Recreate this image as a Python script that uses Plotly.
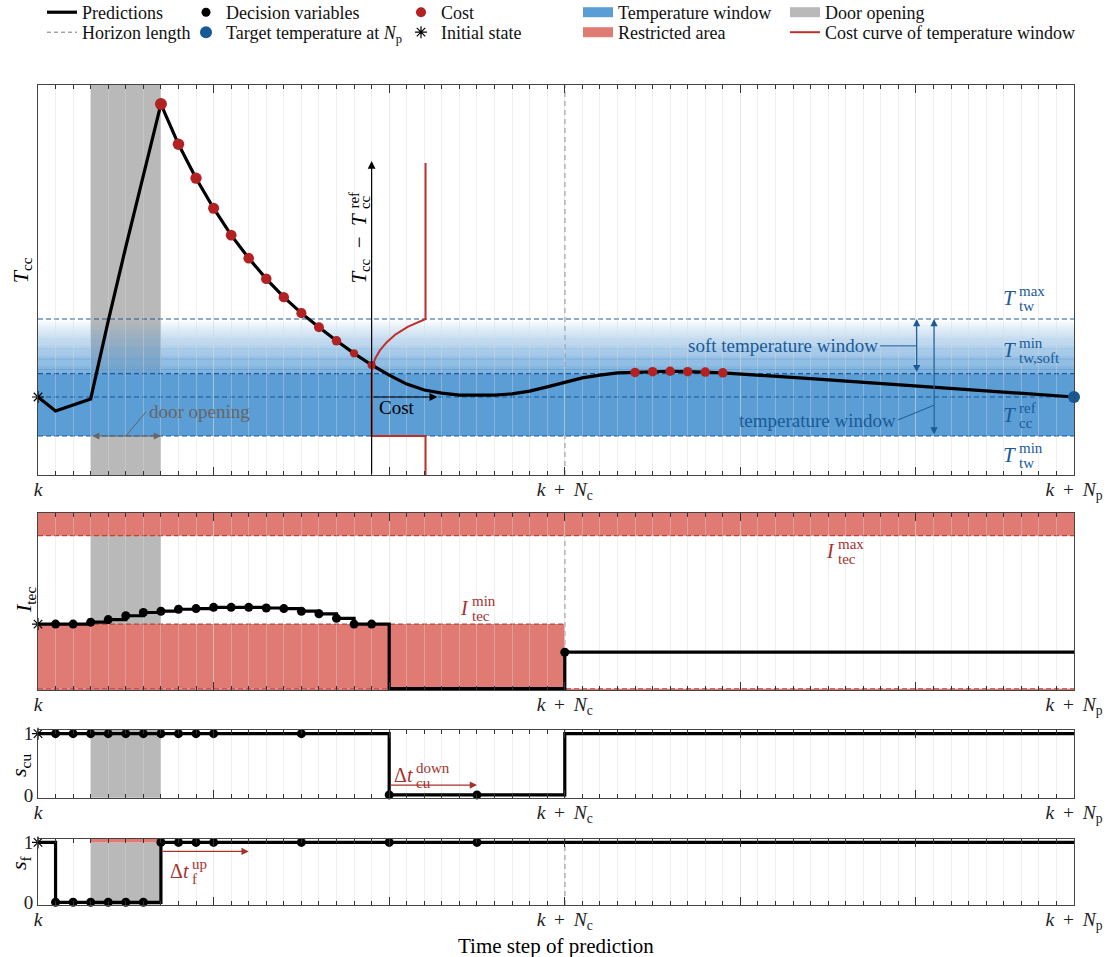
import plotly.graph_objects as go

# ---------------- horizon ----------------
N_C = 30            # control horizon
N_P = 59            # prediction horizon
DOOR_OPEN = (3, 7)  # steps during which the door is open
COST_AXIS_STEP = 19 # origin of the small cost diagram

# ---------------- temperature panel ----------------
T_MIN, T_REF, T_SOFT, T_MAX = 1.0, 2.0, 2.6, 4.0
T_RANGE = (0.0, 10.0)
temp_steps = [0, 1, 3, 4, 5, 6, 7, 8, 9, 10, 11, 12, 13, 14, 15, 16, 17, 18, 19,
              20, 21, 22, 23, 24, 25, 26, 27, 28, 29, 30, 31, 32, 33,
              34, 35, 36, 37, 38, 39, 44, 49, 54, 59]
temp_pred = [2.00, 1.64, 1.95, 3.95, 5.85, 7.70,
             9.51, 8.48, 7.61, 6.84, 6.15, 5.56, 5.03, 4.56, 4.15, 3.79, 3.44, 3.12, 2.82,
             2.56, 2.33, 2.18, 2.10, 2.05, 2.04, 2.05, 2.08, 2.15, 2.26, 2.38, 2.49, 2.56, 2.62,
             2.63, 2.65, 2.66, 2.65, 2.64, 2.62, 2.47, 2.32, 2.16, 2.00]
cost_steps = [7, 8, 9, 10, 11, 12, 13, 14, 15, 16, 17, 18, 19, 34, 35, 36, 37, 38, 39]
cost_weight = [1.0, 0.9, 0.85, 0.8, 0.75, 0.72, 0.7, 0.68, 0.62, 0.58, 0.5, 0.25, 0.22,
               0.5, 0.5, 0.5, 0.5, 0.5, 0.5]
# cost of the temperature window as a function of temperature
cost_curve_temp = [0.0, T_MIN, T_MIN, T_SOFT, 2.8, 3.0, 3.2, 3.4, 3.6, 3.8, T_MAX, 8.0]
cost_curve_val = [3.07, 3.07, 0.0, 0.0, 0.06, 0.22, 0.48, 0.85, 1.35, 2.05, 3.07, 3.07]

# ---------------- TEC current panel ----------------
I_MIN, I_MAX = 1.0, 2.37
I_RANGE = (-0.02, 2.72)
itec_steps = [0, 1, 2, 3, 4, 5, 6, 7, 8, 9, 10, 11, 12, 13, 14, 15, 16, 17, 18, 19, 20, 30, 59]
itec_pred = [1.0, 1.0, 1.0, 1.03, 1.07, 1.13, 1.18, 1.20, 1.23, 1.24, 1.26, 1.26, 1.26,
             1.25, 1.24, 1.20, 1.16, 1.09, 1.0, 1.0, 0.0, 0.565, 0.565]
itec_dec_steps = [1, 2, 3, 4, 5, 6, 7, 8, 9, 10, 11, 12, 13, 14, 15, 16, 17, 18, 19, 30]
itec_dec_vals = [1.0, 1.0, 1.03, 1.07, 1.13, 1.18, 1.20, 1.23, 1.24, 1.26, 1.26, 1.26,
                 1.25, 1.24, 1.20, 1.16, 1.09, 1.0, 1.0, 0.565]

# ---------------- switching panels ----------------
S_RANGE = (-0.045, 1.06)
scu_steps = [0, 20, 30, N_P]
scu_pred = [1, 0, 1, 1]
scu_dec_steps = [1, 2, 3, 4, 5, 6, 7, 8, 9, 10, 15, 20, 25]
scu_dec_vals = [1, 1, 1, 1, 1, 1, 1, 1, 1, 1, 1, 0, 0]
sf_steps = [0, 1, 7, N_P]
sf_pred = [1, 0, 1, 1]
sf_dec_steps = [1, 2, 3, 4, 5, 6, 7, 8, 9, 10, 15, 20, 25]
sf_dec_vals = [0, 0, 0, 0, 0, 0, 1, 1, 1, 1, 1, 1, 1]
DT_CU_DOWN = (20, 25)
DT_F_UP = (7, 12)

# ---------------- styling ----------------
FONT = "Liberation Serif"
BLUE_FILL = "rgb(91,157,213)"
BLUE_LINE = "#1a5a96"
BLUE_DOT = "#155a96"
RED_FILL = "rgb(224,123,116)"
RED_LINE = "#b5473f"
RED_TEXT = "#a5322d"
COST_RED = "#b22222"
CURVE_RED = "#c0302b"
GREY_FILL = "rgb(185,185,185)"
GRID = "rgba(215,215,215,0.38)"
HORIZON = "#777777"

STAR = dict(symbol="asterisk-open", size=10, color="black", line=dict(color="black", width=1.2))

fig = go.Figure()

# ---------- panel 1: cold chamber temperature ----------
fig.add_trace(go.Scatter(x=temp_steps, y=temp_pred, mode="lines",
                         line=dict(color="black", width=3.2), name="Predictions",
                         legend="legend", xaxis="x", yaxis="y"))
fig.add_trace(go.Scatter(x=[None], y=[None], mode="lines",
                         line=dict(color=HORIZON, width=1, dash="4px,3px"), name="Horizon length",
                         legend="legend6", xaxis="x", yaxis="y"))
fig.add_trace(go.Scatter(x=[COST_AXIS_STEP + c for c in cost_curve_val], y=cost_curve_temp,
                         mode="lines", line=dict(color=CURVE_RED, width=2),
                         name="Cost curve of temperature window",
                         legend="legend10", xaxis="x", yaxis="y"))
temp_lookup = dict(zip(temp_steps, temp_pred))
fig.add_trace(go.Scatter(x=cost_steps, y=[temp_lookup[s] for s in cost_steps], mode="markers",
                         marker=dict(color=COST_RED, opacity=1, line=dict(width=0),
                                     size=[7 + 5 * w for w in cost_weight]),
                         name="Cost", legend="legend3", xaxis="x", yaxis="y"))
fig.add_trace(go.Scatter(x=[N_P], y=[temp_lookup[N_P]], mode="markers", cliponaxis=False,
                         marker=dict(color=BLUE_DOT, size=12, line=dict(width=0)),
                         name="Target temperature at <i>N</i><sub>p</sub>",
                         legend="legend7", xaxis="x", yaxis="y"))
fig.add_trace(go.Scatter(x=[0], y=[temp_pred[0]], mode="markers", cliponaxis=False,
                         marker=STAR, name="Initial state", legend="legend8",
                         xaxis="x", yaxis="y"))
fig.add_trace(go.Scatter(x=[None], y=[None], mode="lines", line=dict(color=BLUE_FILL, width=14),
                         name="Temperature window", legend="legend4", xaxis="x", yaxis="y"))
fig.add_trace(go.Scatter(x=[None], y=[None], mode="lines", line=dict(color=RED_FILL, width=14),
                         name="Restricted area", legend="legend9", xaxis="x", yaxis="y"))
fig.add_trace(go.Scatter(x=[None], y=[None], mode="lines", line=dict(color=GREY_FILL, width=14),
                         name="Door opening", legend="legend5", xaxis="x", yaxis="y"))

# ---------- panel 2: TEC current ----------
fig.add_trace(go.Scatter(x=itec_steps, y=itec_pred, mode="lines", line_shape="hv",
                         line=dict(color="black", width=3.2), showlegend=False,
                         xaxis="x2", yaxis="y2"))
fig.add_trace(go.Scatter(x=itec_dec_steps, y=itec_dec_vals, mode="markers",
                         marker=dict(color="black", size=9, line=dict(width=0)),
                         name="Decision variables", legend="legend2", xaxis="x2", yaxis="y2"))
fig.add_trace(go.Scatter(x=[0], y=[itec_pred[0]], mode="markers", cliponaxis=False,
                         marker=STAR, showlegend=False, xaxis="x2", yaxis="y2"))

# ---------- panel 3: compressor unit switch ----------
fig.add_trace(go.Scatter(x=scu_steps, y=scu_pred, mode="lines", line_shape="hv",
                         line=dict(color="black", width=3.2), showlegend=False,
                         xaxis="x3", yaxis="y3"))
fig.add_trace(go.Scatter(x=scu_dec_steps, y=scu_dec_vals, mode="markers", cliponaxis=False,
                         marker=dict(color="black", size=9, line=dict(width=0)),
                         showlegend=False, xaxis="x3", yaxis="y3"))
fig.add_trace(go.Scatter(x=[0], y=[scu_pred[0]], mode="markers", cliponaxis=False,
                         marker=STAR, showlegend=False, xaxis="x3", yaxis="y3"))

# ---------- panel 4: fan switch ----------
fig.add_trace(go.Scatter(x=sf_steps, y=sf_pred, mode="lines", line_shape="hv",
                         line=dict(color="black", width=3.2), showlegend=False,
                         xaxis="x4", yaxis="y4"))
fig.add_trace(go.Scatter(x=sf_dec_steps, y=sf_dec_vals, mode="markers", cliponaxis=False,
                         marker=dict(color="black", size=9, line=dict(width=0)),
                         showlegend=False, xaxis="x4", yaxis="y4"))
fig.add_trace(go.Scatter(x=[0], y=[sf_pred[0]], mode="markers", cliponaxis=False,
                         marker=STAR, showlegend=False, xaxis="x4", yaxis="y4"))

# ---------------- shapes ----------------
shapes = []


def rect(xr, yr, x0, x1, y0, y1, color, layer="below"):
    shapes.append(dict(type="rect", xref=xr, yref=yr, x0=x0, x1=x1, y0=y0, y1=y1,
                       fillcolor=color, line=dict(width=0), layer=layer))


def hline(xr, yr, x0, x1, y, color, dash="5px,3px", width=1.1, layer="below"):
    shapes.append(dict(type="line", xref=xr, yref=yr, x0=x0, x1=x1, y0=y, y1=y,
                       line=dict(color=color, width=width, dash=dash), layer=layer))


def vline(xr, yr, x, y0, y1, color, dash="5px,4px", width=1.2, layer="below"):
    shapes.append(dict(type="line", xref=xr, yref=yr, x0=x, x1=x, y0=y0, y1=y1,
                       line=dict(color=color, width=width, dash=dash), layer=layer))


# temperature window: solid core plus a fading soft band
rect("x", "y", 0, N_P, T_MIN, T_SOFT, BLUE_FILL)
n_strips = 60
for i in range(n_strips):
    y0 = T_SOFT + (T_MAX - T_SOFT) * i / n_strips
    y1 = T_SOFT + (T_MAX - T_SOFT) * (i + 1) / n_strips
    alpha = 1 - (i + 0.5) / n_strips
    rect("x", "y", 0, N_P, y0, y1, f"rgba(91,157,213,{alpha:.3f})")
for lvl in (T_MIN, T_REF, T_SOFT, T_MAX):
    hline("x", "y", 0, N_P, lvl, BLUE_LINE)
rect("x", "y domain", DOOR_OPEN[0], DOOR_OPEN[1], 0, 1, GREY_FILL)
vline("x", "y domain", N_C, 0, 1, HORIZON)

# TEC current: door, horizon, restricted areas
vline("x2", "y2 domain", N_C, 0, 1, HORIZON)
rect("x2", "y2 domain", DOOR_OPEN[0], DOOR_OPEN[1], 0, 1, GREY_FILL)
rect("x2", "y2", 0, N_P, I_MAX, I_RANGE[1], RED_FILL)
rect("x2", "y2", 0, N_C, 0, I_MIN, RED_FILL)
rect("x2", "y2", 0, N_P, I_RANGE[0], 0, RED_FILL)
hline("x2", "y2", 0, N_P, I_MAX, RED_LINE)
hline("x2", "y2", 0, N_C, I_MIN, RED_LINE)
hline("x2", "y2", 0, N_P, 0, RED_LINE)

# compressor switch
rect("x3", "y3 domain", DOOR_OPEN[0], DOOR_OPEN[1], 0, 1, GREY_FILL)
vline("x3", "y3 domain", N_C, 0, 1, HORIZON)

# fan switch
vline("x4", "y4 domain", N_C, 0, 1, HORIZON)
rect("x4", "y4", DOOR_OPEN[0], DOOR_OPEN[1], S_RANGE[0], 1, GREY_FILL)
rect("x4", "y4", DOOR_OPEN[0], DOOR_OPEN[1], 1, S_RANGE[1], RED_FILL)

# leader lines of the annotations
shapes.append(dict(type="line", xref="x", yref="y", x0=5, y0=T_MIN, x1=6.15, y1=1.62,
                   line=dict(color="#666", width=1), layer="above"))
shapes.append(dict(type="line", xref="x", yref="y", x0=47.95, y0=3.31, x1=50.04, y1=3.31,
                   line=dict(color=BLUE_LINE, width=1), layer="above"))
shapes.append(dict(type="line", xref="x", yref="y", x0=48.97, y0=1.41, x1=51.03, y1=1.79,
                   line=dict(color=BLUE_LINE, width=1), layer="above"))

# ---------------- annotations ----------------
ann = []


def text(x, y, s, xr="x", yr="y", size=19, color="black", xanchor="center",
         yanchor="middle", angle=0, xshift=0, yshift=0):
    ann.append(dict(x=x, y=y, xref=xr, yref=yr, text=s, showarrow=False, xanchor=xanchor,
                    yanchor=yanchor, textangle=angle, xshift=xshift, yshift=yshift,
                    font=dict(family=FONT, size=size, color=color)))


def math_label(x, y, base, sup, sub, xr="x", yr="y", color="black", size=21, ssize=15):
    text(x, y, base, xr, yr, size=size, color=color, xanchor="right")
    text(x, y, sup, xr, yr, size=ssize, color=color, xanchor="left", yshift=7, xshift=-1)
    text(x, y, sub, xr, yr, size=ssize, color=color, xanchor="left", yshift=-8, xshift=-1)


def arrow(x0, y0, x1, y1, xr, yr, color, both=False, width=1.2, size=1.2):
    ann.append(dict(x=x1, y=y1, ax=x0, ay=y0, xref=xr, yref=yr, axref=xr, ayref=yr,
                    text="", showarrow=True, arrowhead=2, startarrowhead=2,
                    arrowsize=size, startarrowsize=size, arrowwidth=width,
                    arrowcolor=color, arrowside="end+start" if both else "end"))


# window level labels at the right edge
math_label(55.8, 4.54, "<i>T</i>", "max", "tw", color=BLUE_LINE)
math_label(55.8, 3.21, "<i>T</i>", "min", "tw,soft", color=BLUE_LINE)
math_label(55.8, 1.54, "<i>T</i>", "ref", "cc", color=BLUE_LINE)
math_label(55.8, 0.51, "<i>T</i>", "min", "tw", color=BLUE_LINE)

text(47.95, 3.31, "soft temperature window", color=BLUE_LINE, xanchor="right")
text(48.97, 1.41, "temperature window", color=BLUE_LINE, xanchor="right")
arrow(50.04, T_SOFT, 50.04, T_MAX, "x", "y", BLUE_LINE, both=True)
arrow(51.03, T_MIN, 51.03, T_MAX, "x", "y", BLUE_LINE, both=True)

# door opening marker
arrow(DOOR_OPEN[0], T_MIN, DOOR_OPEN[1], T_MIN, "x", "y", "#666", both=True)
text(6.2, 1.62, "door opening", color="#666", xanchor="left")

# cost diagram axes
arrow(COST_AXIS_STEP, T_RANGE[0], COST_AXIS_STEP, 8.05, "x", "y", "black", size=1.3)
arrow(COST_AXIS_STEP, T_REF, 22.74, T_REF, "x", "y", "black", size=1.3)
text(19.3, 1.72, "Cost", xanchor="left")
text(COST_AXIS_STEP, 6.77, "<i>T</i><sub>cc</sub>\u2002−\u2002<i>T</i>", angle=-90,
     yanchor="top", xshift=-11.5, size=21)
text(COST_AXIS_STEP, 6.77, "ref", angle=-90, yanchor="bottom", xshift=-17.5, size=15)
text(COST_AXIS_STEP, 6.77, "cc", angle=-90, yanchor="bottom", xshift=-6.5, size=15)

# current limits
math_label(45.5, 2.13, "<i>I</i>", "max", "tec", xr="x2", yr="y2", color=RED_TEXT, size=20)
math_label(24.66, 1.25, "<i>I</i>", "min", "tec", xr="x2", yr="y2", color=RED_TEXT, size=20)

# minimum switching times
arrow(DT_CU_DOWN[0], 0.16, DT_CU_DOWN[1], 0.16, "x3", "y3", RED_TEXT)
math_label(21.47, 0.33, "Δ<i>t</i>", "down", "cu", xr="x3", yr="y3", color=RED_TEXT, size=20)
arrow(DT_F_UP[0], 0.85, DT_F_UP[1], 0.85, "x4", "y4", RED_TEXT)
math_label(8.7, 0.52, "Δ<i>t</i>", "up", "f", xr="x4", yr="y4", color=RED_TEXT, size=20)

# axis titles
text(-0.0154, 0.774, "<i>T</i><sub>cc</sub>", "paper", "paper", size=22, angle=-90)
text(-0.0125, 0.372, "<i>I</i><sub>tec</sub>", "paper", "paper", size=22, angle=-90)
text(-0.0174, 0.1707, "<i>s</i><sub>cu</sub>", "paper", "paper", size=22, angle=-90)
text(-0.0174, 0.0524, "<i>s</i><sub>f</sub>", "paper", "paper", size=22, angle=-90)
text(0.5, -0.0505, "Time step of prediction", "paper", "paper", size=21, yanchor="middle")

# ---------------- axes ----------------
tick_vals = [0, 10, 20, 30, 40, 50, N_P]
tick_text = ["<i>k</i>", "", "", "<i>k</i>\u2009 + \u2009<i>N</i><sub>c</sub>", "", "",
             "<i>k</i>\u2009 + \u2009<i>N</i><sub>p</sub>"]
xaxis_common = dict(
    range=[0, N_P], tickmode="array", tickvals=tick_vals, ticktext=tick_text,
    ticks="inside", ticklen=8, tickwidth=1, tickcolor="#333", ticklabelstandoff=-3,
    showline=True, linecolor="#444", linewidth=1, mirror="ticks",
    showgrid=True, gridcolor=GRID, gridwidth=1, zeroline=False, automargin=False,
    tickfont=dict(family=FONT, size=19.5, color="#222"),
    minor=dict(tickmode="linear", tick0=0, dtick=1, ticks="inside", ticklen=4,
               tickcolor="#333", showgrid=True, gridcolor=GRID),
)
yaxis_common = dict(showline=True, linecolor="#444", linewidth=1, mirror=True,
                    showgrid=False, zeroline=False, automargin=False, ticks="")

domains = {1: [0.5244, 1.0], 2: [0.2622, 0.4780], 3: [0.1309, 0.2134], 4: [0.0, 0.0807]}
layout_axes = {}
for k in (1, 2, 3, 4):
    sfx = "" if k == 1 else str(k)
    layout_axes[f"xaxis{sfx}"] = dict(xaxis_common, anchor=f"y{sfx}", domain=[0, 1])
    ya = dict(yaxis_common, anchor=f"x{sfx}", domain=domains[k])
    if k == 1:
        ya.update(range=list(T_RANGE), showticklabels=False)
    elif k == 2:
        ya.update(range=list(I_RANGE), showticklabels=False)
    else:
        ya.update(range=list(S_RANGE), tickmode="array", tickvals=[0, 1],
                  ticktext=["0", "1"], tickfont=dict(family=FONT, size=19, color="#222"))
    layout_axes[f"yaxis{sfx}"] = ya

# one legend box per entry, laid out as a 5 x 2 grid above the panels
W, H = 1109, 957
ML, MR, MT, MB = 38, 35, 85, 52
PLOT_W, PLOT_H = W - ML - MR, H - MT - MB
legend_cols = [42, 186, 401, 578, 785]   # left edge of each column (px)
legend_rows = [-6, 14]                   # top edge of each row (px)
legends = {}
for r, top in enumerate(legend_rows):
    for c, left in enumerate(legend_cols):
        idx = r * 5 + c + 1
        key = "legend" if idx == 1 else f"legend{idx}"
        legends[key] = dict(x=(left - ML) / PLOT_W, y=(H - MB - top) / PLOT_H,
                            xanchor="left", yanchor="top", orientation="v",
                            bgcolor="rgba(0,0,0,0)",
                            font=dict(family=FONT, size=18, color="#111"))

fig.update_layout(
    width=W, height=H,
    margin=dict(l=ML, r=MR, t=MT, b=MB, autoexpand=False),
    paper_bgcolor="white", plot_bgcolor="white",
    font=dict(family=FONT, size=17, color="black"),
    showlegend=True,
    shapes=shapes,
    annotations=ann,
    **legends,
    **layout_axes,
)

fig.write_html("out.html")
